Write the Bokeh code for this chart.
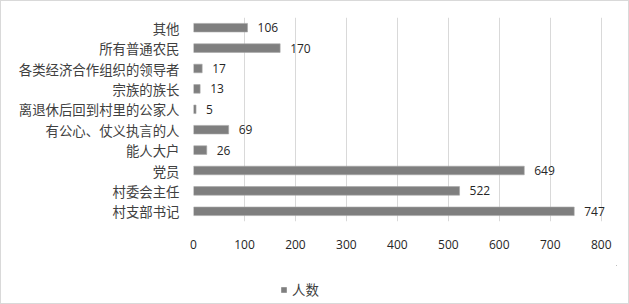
from bokeh.plotting import figure
from bokeh.models import ColumnDataSource, FactorRange, Range1d, Legend, LegendItem, FixedTicker
from bokeh.layouts import column
from bokeh.core.properties import value
from bokeh.embed import file_html
from bokeh.resources import INLINE

categories = ["村支部书记", "村委会主任", "党员", "能人大户", "有公心、仗义执言的人",
              "离退休后回到村里的公家人", "宗族的族长", "各类经济合作组织的领导者", "所有普通农民", "其他"]
counts = [747, 522, 649, 26, 69, 5, 13, 17, 170, 106]
x_ticks = [0, 100, 200, 300, 400, 500, 600, 700, 800]
series_name = "人数"

W, H1, H2 = 627, 264, 38
BAR_FILL, BAR_LINE = "#7f7f7f", "#a6a6a6"
src = ColumnDataSource(dict(cat=categories, val=counts, lab=[str(v) for v in counts]))

p = figure(width=W, height=H1, output_backend="svg", toolbar_location=None,
           y_range=FactorRange(factors=categories, range_padding=0),
           x_range=Range1d(0, 830),
           min_border_left=192, min_border_right=W - 615, min_border_top=16,
           min_border_bottom=H1 - 220)
p.outline_line_color = None
p.background_fill_color = "white"
p.border_fill_color = "white"

r = p.hbar(y="cat", right="val", left=0, height=0.42, source=src,
           fill_color=BAR_FILL, line_color=BAR_LINE, line_width=0.6)

p.text(x="val", y="cat", text="lab", source=src, x_offset=10,
       text_baseline="middle", text_align="left", text_font=value("Open Sans"),
       text_font_size="12px", text_color="#262626")

p.xaxis.ticker = FixedTicker(ticks=x_ticks)
p.xaxis.axis_line_color = None
p.xaxis.major_tick_line_color = None
p.xaxis.minor_tick_line_color = None
p.xaxis.major_tick_out = 0
p.xaxis.major_tick_in = 0
p.xaxis.major_label_standoff = 18
p.xaxis.major_label_text_font = "Open Sans"
p.xaxis.major_label_text_font_size = "12px"
p.xaxis.major_label_text_color = "#262626"

p.yaxis.axis_line_color = None
p.yaxis.major_tick_line_color = None
p.yaxis.minor_tick_line_color = None
p.yaxis.major_tick_out = 0
p.yaxis.major_tick_in = 0
p.yaxis.major_label_standoff = 14
p.yaxis.major_label_text_font = "Noto Sans CJK SC"
p.yaxis.major_label_text_font_size = "13.4px"
p.yaxis.major_label_text_color = "#404040"

p.xgrid.grid_line_color = "#d9d9d9"
p.xgrid.grid_line_width = 1
p.ygrid.grid_line_color = None

# legend strip below the chart (its frame is aligned with the chart's frame)
p2 = figure(width=W, height=H2, output_backend="svg", toolbar_location=None,
            x_axis_type=None, y_axis_type=None, min_border=0,
            x_range=Range1d(0, 1), y_range=Range1d(0, 1))
p2.outline_line_color = None
p2.grid.grid_line_color = None
p2.border_fill_color = "white"
# same series, zero-width and outside this strip's ranges: only feeds the legend swatch
proxy = p2.hbar(y="val", right="val", left="val", height=0.42, source=src,
                fill_color=BAR_FILL, line_color=None)
legend = Legend(items=[LegendItem(label=series_name, renderers=[proxy])],
                location=(87, 4), orientation="horizontal",
                glyph_width=7, glyph_height=7, label_height=14, label_standoff=5,
                padding=0, margin=0, spacing=0,
                label_text_font="Noto Sans CJK SC", label_text_font_size="13.4px",
                label_text_color="#404040",
                border_line_color=None, background_fill_alpha=0)
p2.add_layout(legend, "center")

layout = column(p, p2, spacing=0, styles={"border": "1px solid #d9d9d9"})
open("out.html", "w").write(file_html(layout, INLINE))
